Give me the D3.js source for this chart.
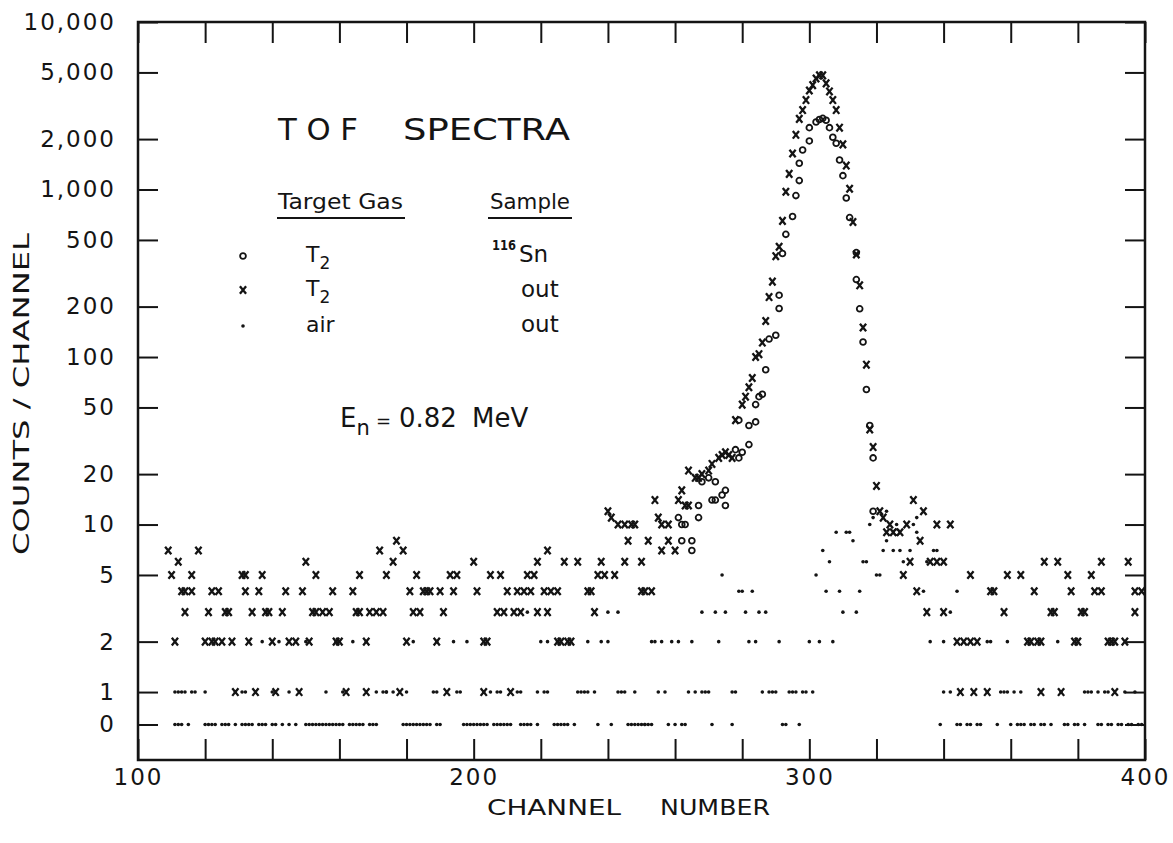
<!DOCTYPE html>
<html>
<head>
<meta charset="utf-8">
<script src="https://cdn.jsdelivr.net/npm/d3@7"></script>
<style>
  body { margin: 0; background: #fff; }
  text { font-family: "DejaVu Sans", sans-serif; fill: #141414; }
  .axis text { font-size: 23px; letter-spacing: 2px; }
  .axis line { stroke: #141414; stroke-width: 2; }
  .axis path { display: none; }
</style>
</head>
<body>
<div id="chart"></div>
<script>
// tick values
var xTickValues = [100, 120, 140, 160, 180, 200, 220, 240, 260, 280, 300, 320, 340, 360, 380, 400]
var xTickLabels = [100, 200, 300, 400]
var yTickValues = [0, 1, 2, 5, 10, 20, 50, 100, 200, 500, 1000, 2000, 5000, 10000]

// o : target gas T2, sample 116Sn   [channel, counts]
var sn116 = [
  [261, 11], [262, 8], [262, 10], [263, 10], [265, 8], [265, 7], [267, 13], [267, 11],
  [268, 18], [270, 19], [271, 14], [272, 14], [272, 18], [274, 15], [275, 13], [275, 16],
  [278, 28], [279, 25], [279, 42], [280, 27], [282, 30], [282, 39], [284, 41], [284, 52],
  [285, 58], [286, 60], [287, 84], [288, 128], [290, 135], [291, 195], [291, 234], [292, 415],
  [293, 540], [295, 690], [296, 920], [297, 1130], [297, 1435], [298, 1720], [300, 1950], [300, 2340],
  [302, 2530], [303, 2620], [304, 2660], [305, 2590], [306, 2340], [307, 2050], [308, 1890], [309, 1500],
  [310, 1210], [311, 890], [312, 680], [314, 420], [314, 290], [315, 194], [316, 123], [317, 64],
  [318, 39], [319, 25], [319, 12], [326, 9]
]

// x : target gas T2, sample out
var t2Out = [
  [109, 7], [118, 7], [172, 7], [112, 6], [150, 6],
  [110, 5], [116, 5], [131, 5], [132, 5], [137, 5], [153, 5], [166, 5], [174, 5],
  [113, 4], [114, 4], [116, 4], [122, 4], [124, 4], [132, 4], [136, 4], [144, 4], [149, 4], [158, 4], [164, 4],
  [114, 3], [121, 3], [126, 3], [127, 3], [134, 3], [138, 3], [139, 3], [143, 3], [152, 3], [153, 3],
  [155, 3], [157, 3], [165, 3], [166, 3], [169, 3], [171, 3], [173, 3],
  [111, 2], [120, 2], [122, 2], [123, 2], [125, 2], [128, 2], [133, 2], [140, 2], [145, 2], [147, 2],
  [151, 2], [159, 2], [160, 2], [168, 2],
  [129, 1], [135, 1], [141, 1], [148, 1], [162, 1], [168, 1],
  [240, 12], [241, 11], [243, 10], [245, 10], [247, 10], [248, 10], [177, 8], [246, 8], [179, 7], [222, 7],
  [176, 6], [200, 6], [219, 6], [227, 6], [231, 6], [238, 6], [245, 6], [250, 6],
  [183, 5], [193, 5], [195, 5], [205, 5], [208, 5], [216, 5], [218, 5], [237, 5], [239, 5], [242, 5],
  [181, 4], [185, 4], [186, 4], [187, 4], [190, 4], [194, 4], [201, 4], [210, 4], [213, 4], [215, 4],
  [217, 4], [221, 4], [223, 4], [225, 4], [234, 4], [235, 4], [250, 4], [251, 4],
  [182, 3], [184, 3], [191, 3], [207, 3], [209, 3], [212, 3], [214, 3], [219, 3], [222, 3], [236, 3],
  [180, 2], [189, 2], [203, 2], [204, 2], [225, 2], [226, 2], [228, 2], [229, 2],
  [178, 1], [192, 1], [203, 1], [211, 1],
  [253, 4], [252, 8], [254, 14], [255, 11], [256, 7], [256, 10], [258, 10], [258, 8], [260, 7], [261, 14],
  [262, 16], [263, 13], [264, 13], [264, 21], [266, 19], [267, 19], [268, 20], [270, 21], [271, 23], [273, 25],
  [274, 26], [275, 27], [276, 26], [277, 25], [278, 42],
  [280, 52], [281, 58], [282, 66], [283, 75], [284, 100], [285, 104], [286, 122], [287, 164], [288, 228],
  [289, 282], [290, 400], [291, 455], [292, 650], [293, 970], [294, 1240], [295, 1640], [296, 2120],
  [297, 2640], [298, 2980], [299, 3420], [300, 3900], [301, 4200], [302, 4600], [303, 4800], [304, 4800],
  [305, 4300], [306, 3850], [307, 3420], [308, 2980], [309, 2340], [310, 1860], [311, 1390], [312, 1010],
  [313, 640], [314, 410], [315, 268], [316, 150], [317, 90], [318, 37], [319, 29], [320, 17],
  [321, 12], [322, 11], [323, 9], [324, 10], [325, 9],
  [331, 14], [334, 12], [329, 10], [338, 10], [342, 10], [327, 9], [333, 8],
  [330, 6], [336, 6], [338, 6], [340, 6], [370, 6], [374, 6], [387, 6], [395, 6],
  [328, 5], [348, 5], [359, 5], [363, 5], [377, 5], [384, 5],
  [332, 4], [354, 4], [355, 4], [367, 4], [378, 4], [385, 4], [387, 4], [397, 4], [399, 4],
  [335, 3], [340, 3], [358, 3], [372, 3], [373, 3], [381, 3], [382, 3], [397, 3],
  [344, 2], [346, 2], [348, 2], [350, 2], [365, 2], [366, 2], [368, 2], [369, 2], [379, 2], [380, 2],
  [389, 2], [390, 2], [391, 2], [394, 2],
  [345, 1], [349, 1], [353, 1], [369, 1], [375, 1], [391, 1]
]

// . : target gas air, sample out
var airOut = [
  [137, 2], [142, 2], [150, 2], [159, 2], [164, 2], [168, 2],
  [111, 1], [112, 1], [113, 1], [114, 1], [116, 1], [117, 1], [120, 1], [129, 1], [131, 1], [132, 1],
  [140, 1], [145, 1], [156, 1], [161, 1], [171, 1], [173, 1], [174, 1],
  [111, 0], [112, 0], [113, 0], [115, 0], [120, 0], [121, 0], [122, 0], [123, 0], [125, 0], [126, 0],
  [127, 0], [129, 0], [131, 0], [132, 0], [133, 0], [134, 0], [136, 0], [137, 0], [138, 0], [140, 0],
  [141, 0], [143, 0], [145, 0], [147, 0], [150, 0], [151, 0], [152, 0], [153, 0], [154, 0], [155, 0],
  [156, 0], [157, 0], [158, 0], [159, 0], [160, 0], [161, 0], [163, 0], [164, 0], [165, 0], [166, 0],
  [167, 0], [169, 0], [170, 0], [171, 0],
  [216, 3], [240, 3], [243, 3],
  [182, 2], [189, 2], [194, 2], [198, 2], [220, 2], [222, 2], [225, 2], [234, 2], [238, 2], [240, 2],
  [174, 1], [176, 1], [180, 1], [188, 1], [189, 1], [195, 1], [196, 1], [203, 1], [205, 1], [207, 1],
  [208, 1], [213, 1], [214, 1], [219, 1], [221, 1], [222, 1], [231, 1], [232, 1], [233, 1], [234, 1],
  [236, 1], [243, 1], [244, 1], [245, 1], [248, 1],
  [179, 0], [180, 0], [181, 0], [182, 0], [183, 0], [184, 0], [185, 0], [186, 0], [187, 0], [189, 0],
  [190, 0], [197, 0], [198, 0], [199, 0], [200, 0], [201, 0], [202, 0], [203, 0], [204, 0], [206, 0],
  [207, 0], [208, 0], [209, 0], [210, 0], [211, 0], [214, 0], [215, 0], [216, 0], [217, 0], [219, 0],
  [224, 0], [225, 0], [226, 0], [227, 0], [228, 0], [230, 0], [237, 0], [241, 0], [246, 0], [247, 0],
  [248, 0], [249, 0], [251, 0],
  [323, 12], [319, 11], [332, 11], [318, 10], [326, 10], [308, 9], [311, 9], [312, 9], [313, 8], [323, 8],
  [304, 7], [322, 7], [325, 7], [327, 7], [306, 6], [316, 6], [317, 6],
  [274, 5], [302, 5], [320, 5], [321, 5], [279, 4], [280, 4], [283, 4], [305, 4], [309, 4], [315, 4],
  [268, 3], [272, 3], [275, 3], [281, 3], [285, 3], [287, 3], [310, 3], [314, 3],
  [253, 2], [254, 2], [256, 2], [259, 2], [261, 2], [265, 2], [273, 2], [282, 2], [284, 2], [291, 2],
  [300, 2], [303, 2], [307, 2],
  [255, 1], [257, 1], [264, 1], [266, 1], [268, 1], [269, 1], [270, 1], [277, 1], [278, 1], [286, 1],
  [288, 1], [289, 1], [290, 1], [294, 1], [295, 1], [296, 1], [298, 1], [299, 1], [301, 1],
  [250, 0], [251, 0], [252, 0], [253, 0], [258, 0], [260, 0], [262, 0], [263, 0], [271, 0], [277, 0],
  [292, 0], [293, 0], [297, 0],
  [331, 10], [332, 9], [330, 7], [337, 7], [338, 7], [328, 6], [335, 6], [334, 4], [344, 4], [342, 3],
  [336, 2], [340, 2], [353, 2], [354, 2], [359, 2], [374, 2],
  [340, 1], [342, 1], [345, 1], [353, 1], [357, 1], [358, 1], [359, 1], [361, 1], [363, 1], [375, 1],
  [382, 1], [383, 1], [384, 1], [386, 1], [388, 1], [389, 1], [394, 1], [397, 1],
  [339, 0], [344, 0], [345, 0], [347, 0], [348, 0], [350, 0], [351, 0], [356, 0], [360, 0], [362, 0],
  [363, 0], [364, 0], [366, 0], [367, 0], [369, 0], [370, 0], [372, 0], [376, 0], [377, 0], [379, 0],
  [380, 0], [382, 0], [386, 0], [387, 0], [389, 0], [390, 0], [392, 0], [393, 0], [395, 0], [396, 0],
  [398, 0], [399, 0]
]

var width = 1173
var height = 843
var frame = { left: 138, right: 1145, top: 22, bottom: 760 }

// zero counts sit on their own line below "1" on the log axis
var zeroLevel = 0.64

var svg = d3.select("#chart")
  .append("svg")
  .attr("width", width)
  .attr("height", height)

var x = d3.scaleLinear()
  .domain([100, 400])
  .range([frame.left, frame.right])

var yLog = d3.scaleLog()
  .domain([0.393, 10000])
  .range([frame.bottom, frame.top])

function y(v) { return yLog(v === 0 ? zeroLevel : v) }

var yTicks = yTickValues.map(v => v === 0 ? zeroLevel : v)
var fmt = d3.format(",")

// axes, ticks point into the frame
svg.append("g")
  .attr("class", "axis")
  .attr("transform", "translate(" + frame.left + ",0)")
  .call(d3.axisLeft(yLog).tickValues(yTicks).tickSizeInner(-20).tickSizeOuter(0).tickPadding(22)
    .tickFormat(d => d === zeroLevel ? "0" : fmt(d)))

svg.append("g")
  .attr("class", "axis")
  .attr("transform", "translate(" + frame.right + ",0)")
  .call(d3.axisRight(yLog).tickValues(yTicks).tickSizeInner(-20).tickSizeOuter(0).tickFormat(""))

svg.append("g")
  .attr("class", "axis")
  .attr("transform", "translate(0," + frame.top + ")")
  .call(d3.axisTop(x).tickValues(xTickValues).tickSizeInner(-21).tickSizeOuter(0).tickFormat(""))

svg.append("g")
  .attr("class", "axis")
  .attr("transform", "translate(0," + frame.bottom + ")")
  .call(d3.axisBottom(x).tickValues(xTickValues).tickSizeInner(-21).tickSizeOuter(0).tickPadding(9)
    .tickFormat(d => xTickLabels.indexOf(d) >= 0 ? d : ""))
  .selectAll("text")
  .attr("letter-spacing", "0px")
  .attr("font-size", "24px")

svg.append("rect")
  .attr("x", frame.left)
  .attr("y", frame.top)
  .attr("width", frame.right - frame.left)
  .attr("height", frame.bottom - frame.top)
  .attr("fill", "none")
  .attr("stroke", "#141414")
  .attr("stroke-width", 2.5)

// axis titles
svg.append("text")
  .text("COUNTS / CHANNEL")
  .attr("transform", "translate(29,394) rotate(-90)")
  .attr("text-anchor", "middle")
  .attr("font-size", "22px")
  .attr("textLength", 322)
  .attr("lengthAdjust", "spacingAndGlyphs")

svg.append("text")
  .text("CHANNEL")
  .attr("x", 487)
  .attr("y", 815)
  .attr("font-size", "22px")
  .attr("textLength", 134)
  .attr("lengthAdjust", "spacingAndGlyphs")

svg.append("text")
  .text("NUMBER")
  .attr("x", 660)
  .attr("y", 815)
  .attr("font-size", "22px")
  .attr("textLength", 110)
  .attr("lengthAdjust", "spacingAndGlyphs")

// markers
var ink = "#141414"
function drawCross(sel) {
  sel.append("path")
    .attr("d", "M-3.1,-3.8L3.1,3.8M3.1,-3.8L-3.1,3.8")
    .attr("stroke", ink)
    .attr("stroke-width", 2.3)
    .attr("fill", "none")
}
function drawRing(sel) {
  sel.append("circle").attr("r", 2.9).attr("fill", "none").attr("stroke", ink).attr("stroke-width", 1.8)
}
function drawDot(sel) {
  sel.append("circle").attr("r", 1.8).attr("fill", ink)
}

svg.append("g").selectAll("g")
  .data(airOut)
  .enter()
  .append("g")
  .attr("transform", d => "translate(" + x(d[0]) + "," + y(d[1]) + ")")
  .call(drawDot)

svg.append("g").selectAll("g")
  .data(t2Out)
  .enter()
  .append("g")
  .attr("transform", d => "translate(" + x(d[0]) + "," + y(d[1]) + ")")
  .call(drawCross)

svg.append("g").selectAll("g")
  .data(sn116)
  .enter()
  .append("g")
  .attr("transform", d => "translate(" + x(d[0]) + "," + y(d[1]) + ")")
  .call(drawRing)

// title and legend
svg.append("text").text("T O F")
  .attr("x", 278).attr("y", 140).attr("font-size", "31px")
  .attr("textLength", 80).attr("lengthAdjust", "spacingAndGlyphs")
svg.append("text").text("SPECTRA")
  .attr("x", 403).attr("y", 140).attr("font-size", "31px")
  .attr("textLength", 167).attr("lengthAdjust", "spacingAndGlyphs")

svg.append("text").text("Target  Gas")
  .attr("x", 278).attr("y", 209).attr("font-size", "22px")
  .attr("textLength", 125).attr("lengthAdjust", "spacingAndGlyphs")
svg.append("text").text("Sample")
  .attr("x", 490).attr("y", 209).attr("font-size", "22px")
  .attr("textLength", 80).attr("lengthAdjust", "spacingAndGlyphs")
svg.append("line").attr("x1", 277).attr("x2", 405).attr("y1", 218).attr("y2", 218)
  .attr("stroke", ink).attr("stroke-width", 2)
svg.append("line").attr("x1", 488).attr("x2", 572).attr("y1", 218).attr("y2", 218)
  .attr("stroke", ink).attr("stroke-width", 2)

var legendRows = [
  { draw: drawRing, gas: "T", sub: "2", y: 262 },
  { draw: drawCross, gas: "T", sub: "2", y: 296 },
  { draw: drawDot, gas: "air", sub: "", y: 332 }
]
legendRows.forEach(function(r) {
  svg.append("g").attr("transform", "translate(243," + (r.y - 6) + ")").call(r.draw)
  var t = svg.append("text").attr("x", 306).attr("y", r.y).attr("font-size", "22px").text(r.gas)
  if (r.sub) t.append("tspan").attr("dy", 7).attr("font-size", "17px").text(r.sub)
})

svg.append("text").text("116")
  .attr("x", 492).attr("y", 250).attr("font-size", "14px").attr("font-weight", "bold")
  .attr("textLength", 24).attr("lengthAdjust", "spacingAndGlyphs")
svg.append("text").text("Sn").attr("x", 519).attr("y", 262).attr("font-size", "23px")
svg.append("text").text("out").attr("x", 521).attr("y", 297).attr("font-size", "23px")
svg.append("text").text("out").attr("x", 521).attr("y", 332).attr("font-size", "23px")

var en = svg.append("text").attr("x", 340).attr("y", 427).attr("font-size", "26px")
en.append("tspan").text("E")
en.append("tspan").attr("dy", 8).attr("font-size", "21px").text("n")
en.append("tspan").attr("x", 376).attr("dy", -8).attr("font-size", "18px").text("=")
en.append("tspan").attr("x", 399).text("0.82")
en.append("tspan").attr("x", 472).text("MeV")
</script>
</body>
</html>
